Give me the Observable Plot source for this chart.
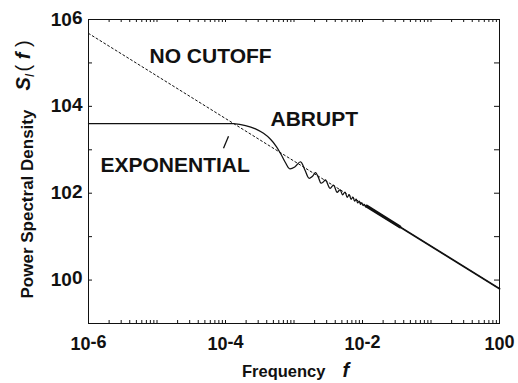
<!DOCTYPE html>
<html>
<head>
<meta charset="utf-8">
<script src="https://cdn.jsdelivr.net/npm/d3@7"></script>
<script src="https://cdn.jsdelivr.net/npm/@observablehq/plot@0.6"></script>
<style>
  html, body { margin: 0; padding: 0; background: #fff; }
  #chart svg { display: block; }
</style>
</head>
<body>
<div id="chart"></div>
<script>
// Spectrum with the low-frequency plateau and the abrupt cutoff (ringing past the knee)
const abruptF = [1e-6, 1e-4, 1.31e-4, 1.96e-4, 2.74e-4, 3.59e-4, 4.54e-4, 5.56e-4, 6.58e-4, 7.52e-4,
  8.60e-4, 1.035e-3, 1.245e-3, 1.448e-3, 1.656e-3, 1.862e-3, 2.06e-3, 2.28e-3, 2.48e-3, 2.70e-3,
  2.88e-3, 3.36e-3, 3.78e-3, 4.25e-3, 4.70e-3, 5.12e-3, 5.55e-3, 5.97e-3, 6.40e-3, 6.82e-3,
  7.25e-3, 7.67e-3, 8.10e-3, 8.52e-3, 8.95e-3, 9.37e-3, 9.80e-3, 1.022e-2, 1.065e-2, 1.107e-2, 1.15e-2];
const abruptS = [4000, 4000, 4000, 3620, 3040, 2390, 1743, 1172, 748, 502,
  366, 406, 530, 338, 221, 246, 296, 227, 170, 184,
  204, 130, 153, 105, 120, 91.9, 106.6, 80.5, 92.4, 72.0,
  81.3, 65.5, 72.8, 59.8, 65.5, 55.3, 59.8, 51.6, 55.3, 48.2, 50.5];

// High-frequency tail, where the spectra follow 1/f
const tailF = [0.0115, 0.03, 1];
const tailS = [50.5, 19.6, 0.631];
// Stretch where the residual ringing blurs into a heavier stroke
const blurF = [0.0115, 0.035];
const blurS = [50.5, 16.9];

// Pure 1/f spectrum without a cutoff
const noCutoffF = [1e-6, 1];
const noCutoffS = [4.79e5, 0.631];

// Curve labels and their anchors (frequency, S_I)
const labelText = ["NO CUTOFF", "ABRUPT", "EXPONENTIAL"];
const labelF = [7.78e-6, 4.54e-4, 1.496e-6];
const labelS = [98900, 3467, 309];
// Pointer from the EXPONENTIAL label to the knee
const pointerF = [1.107e-4, 9.35e-5];
const pointerS = [2042, 1081];

// Axis ticks
const xTicks = [1e-6, 1e-4, 1e-2, 1];
const xTickLabels = ["10-6", "10-4", "10-2", "100"];
const yTicks = [1, 1e2, 1e4, 1e6];
const yTickLabels = ["100", "102", "104", "106"];

const W = 518, H = 383;
const mL = 88, mR = 19, mT = 19, mB = 60;
const plotW = W - mL - mR, plotH = H - mT - mB;

const xMinor = d3.scaleLog().domain([1e-6, 1]).ticks();
const yDecades = d3.range(-1, 7).map(k => 10 ** k);

const rows = (fs, ss) => fs.map((f, i) => ({f, s: ss[i]}));
const ink = "#111";
const font = "'Liberation Sans', Arial, Helvetica, sans-serif";

const chart = Plot.plot({
  width: W,
  height: H,
  marginLeft: mL,
  marginRight: mR,
  marginTop: mT,
  marginBottom: mB,
  x: {type: "log", domain: [1e-6, 1], axis: null},
  y: {type: "log", domain: [0.1, 1e6], axis: null},
  style: {fontFamily: font, background: "#fff", color: ink},
  marks: [
    // inward ticks on all four sides
    Plot.ruleX(xMinor, {x: d => d, insetTop: plotH - 3, stroke: ink, strokeWidth: 1}),
    Plot.ruleX(xMinor, {x: d => d, insetBottom: plotH - 3, stroke: ink, strokeWidth: 1}),
    Plot.ruleY(yDecades, {y: d => d, insetRight: plotW - 4, stroke: ink, strokeWidth: 1}),
    Plot.ruleY(yDecades, {y: d => d, insetLeft: plotW - 5, stroke: ink, strokeWidth: 1}),
    Plot.frame({stroke: ink, strokeWidth: 1}),

    Plot.line(rows(noCutoffF, noCutoffS), {x: "f", y: "s", stroke: ink, strokeWidth: 1, strokeDasharray: "2,2.5"}),
    Plot.line(rows(abruptF, abruptS), {x: "f", y: "s", curve: "catmull-rom", stroke: ink, strokeWidth: 1.25}),
    Plot.line(rows(tailF, tailS), {x: "f", y: "s", stroke: ink, strokeWidth: 1.8}),
    Plot.line(rows(blurF, blurS), {x: "f", y: "s", stroke: ink, strokeWidth: 3.2}),

    Plot.link([{x1: pointerF[0], y1: pointerS[0], x2: pointerF[1], y2: pointerS[1]}],
      {x1: "x1", y1: "y1", x2: "x2", y2: "y2", stroke: ink, strokeWidth: 1.3}),

    Plot.text(labelText.map((t, i) => ({t, f: labelF[i], s: labelS[i]})),
      {x: "f", y: "s", text: "t", textAnchor: "start", lineAnchor: "bottom",
       fontSize: 21, fontWeight: "bold", fill: ink}),

    // tick labels
    Plot.text(xTicks, {x: d => d, text: (d, i) => xTickLabels[i], frameAnchor: "bottom",
      dy: 26, lineAnchor: "bottom", fontSize: 18, fontWeight: "bold", fill: ink}),
    Plot.text(yTicks, {y: d => d, text: (d, i) => yTickLabels[i], frameAnchor: "left",
      dx: -6, textAnchor: "end", lineAnchor: "middle", fontSize: 19, fontWeight: "bold", fill: ink}),

    // axis titles
    Plot.text(["Frequency"], {text: d => d, frameAnchor: "bottom", textAnchor: "start",
      lineAnchor: "bottom", dx: 241.5 - (mL + plotW / 2), dy: 53, fontSize: 16.5, fontWeight: "bold", fill: ink}),
    Plot.text(["f"], {text: d => d, frameAnchor: "bottom", textAnchor: "start",
      lineAnchor: "bottom", dx: 342 - (mL + plotW / 2), dy: 53, fontSize: 20, fontWeight: "bold",
      fontStyle: "italic", fill: ink}),
    Plot.text(["Power Spectral Density"], {text: d => d, frameAnchor: "bottom-left", rotate: -90,
      textAnchor: "start", lineAnchor: "bottom", dx: 32 - mL, dy: 298 - (H - mB),
      fontSize: 17, fontWeight: "bold", fill: ink}),
    Plot.text(["SI(f)"], {text: d => d, frameAnchor: "bottom-left", rotate: -90,
      textAnchor: "start", lineAnchor: "bottom", dx: 29 - mL, dy: 90 - (H - mB),
      fontSize: 20, fill: ink})
  ]
});

document.getElementById("chart").append(chart);

// Typeset powers of ten with a slightly raised exponent, and S_I(f) with its subscript
const NS = "http://www.w3.org/2000/svg";
const tspan = (txt, attrs = {}) => {
  const t = document.createElementNS(NS, "tspan");
  t.textContent = txt;
  for (const [k, v] of Object.entries(attrs)) t.setAttribute(k, v);
  return t;
};
chart.querySelectorAll("text").forEach(t => {
  const s = t.textContent;
  if (/^10-?\d$/.test(s)) {
    t.textContent = "";
    t.append(tspan("10"), tspan(s.slice(2), {dy: "-0.09em"}));
  } else if (s === "SI(f)") {
    t.textContent = "";
    t.append(
      tspan("S", {"font-style": "italic", "font-weight": "bold"}),
      tspan("I", {"font-style": "italic", "font-size": "13px", dy: "4"}),
      tspan("( ", {dy: "-4", dx: "2"}),
      tspan("f", {"font-style": "italic", "font-weight": "bold"}),
      tspan(" )")
    );
  }
});
</script>
</body>
</html>
